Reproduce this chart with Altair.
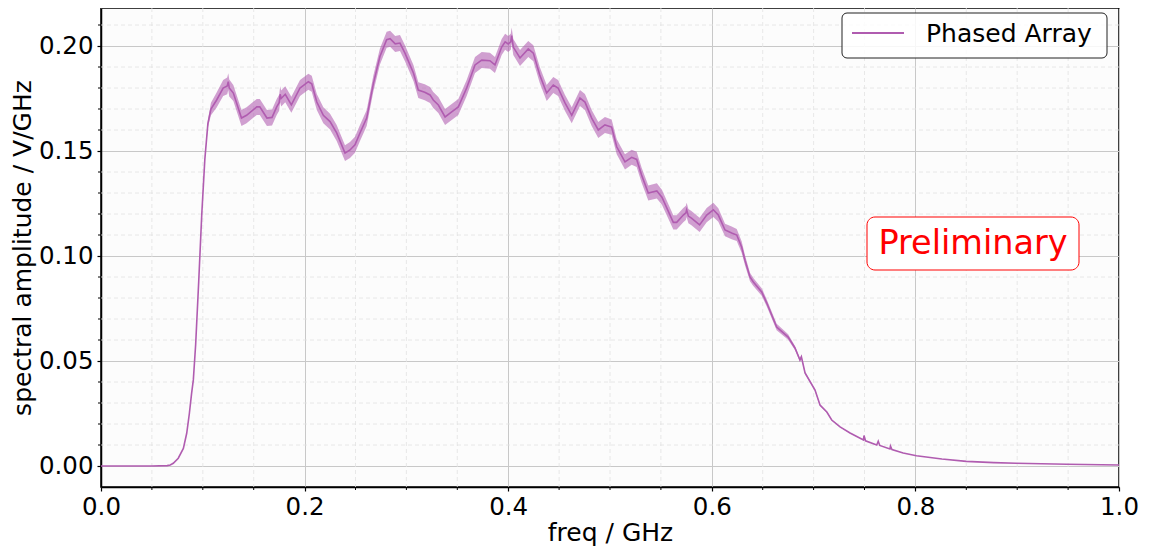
import altair as alt
import pandas as pd

# ---- data ----
freq = [0.000, 0.050, 0.065, 0.068, 0.071, 0.0759, 0.0809, 0.0842, 0.0868, 0.089,
        0.0907, 0.093, 0.096, 0.099, 0.102, 0.105, 0.108, 0.1136, 0.120, 0.124,
        0.125, 0.126, 0.130, 0.138, 0.143, 0.153, 0.156, 0.163, 0.168, 0.1726,
        0.175, 0.176, 0.177, 0.181, 0.187, 0.1955, 0.2037, 0.207, 0.212, 0.2184,
        0.225, 0.2315, 0.2397, 0.2446, 0.2495, 0.2544, 0.261, 0.2675, 0.274, 0.2806,
        0.284, 0.289, 0.2937, 0.2986, 0.307, 0.3117, 0.318, 0.3232, 0.3264, 0.3314,
        0.338, 0.3445, 0.351, 0.3592, 0.3674, 0.374, 0.382, 0.387, 0.3936, 0.397,
        0.400, 0.4025, 0.4034, 0.405, 0.4116, 0.4197, 0.4247, 0.431, 0.4378, 0.4443,
        0.449, 0.4558, 0.4624, 0.4705, 0.4754, 0.482, 0.4885, 0.495, 0.5016, 0.5066,
        0.5147, 0.5213, 0.5262, 0.531, 0.5376, 0.546, 0.551, 0.5622, 0.5655, 0.572,
        0.5745, 0.5753, 0.577, 0.580, 0.588, 0.595, 0.6015, 0.6064, 0.613, 0.6195,
        0.6245, 0.6293, 0.6326, 0.6375, 0.6408, 0.649, 0.654, 0.6637, 0.675, 0.6817,
        0.6866, 0.688, 0.6916, 0.7014, 0.7063, 0.713, 0.7178, 0.726, 0.7358, 0.749,
        0.7495, 0.751, 0.762, 0.7635, 0.765, 0.775, 0.7755, 0.777, 0.788, 0.801,
        0.826, 0.850, 0.877, 0.899, 0.949, 1.000]
amp = [0.0000, 0.0000, 0.0002, 0.0005, 0.0013, 0.0037, 0.0084, 0.0156, 0.0250, 0.0346,
       0.0410, 0.0580, 0.0880, 0.1200, 0.1460, 0.1630, 0.1700, 0.1743, 0.1800, 0.1810,
       0.1830, 0.1800, 0.1776, 0.1657, 0.1670, 0.1710, 0.1710, 0.1657, 0.1660, 0.1710,
       0.1730, 0.1770, 0.1750, 0.1770, 0.1720, 0.1800, 0.1830, 0.1820, 0.1733, 0.1670,
       0.1640, 0.1586, 0.1490, 0.1505, 0.1530, 0.1586, 0.1657, 0.1820, 0.1950, 0.2030,
       0.2035, 0.2010, 0.2014, 0.1966, 0.1870, 0.1790, 0.1780, 0.1767, 0.1743, 0.1719,
       0.1662, 0.1686, 0.1710, 0.1800, 0.1910, 0.1933, 0.1930, 0.1910, 0.1995, 0.2020,
       0.2010, 0.2020, 0.2050, 0.1995, 0.1943, 0.1986, 0.1966, 0.1862, 0.1776, 0.1814,
       0.1800, 0.1729, 0.1670, 0.1752, 0.1733, 0.1657, 0.1600, 0.1624, 0.1614, 0.1520,
       0.1448, 0.1470, 0.1460, 0.1386, 0.1300, 0.1310, 0.1280, 0.1160, 0.1160, 0.1195,
       0.1205, 0.1220, 0.1190, 0.1180, 0.1148, 0.1195, 0.1220, 0.1195, 0.1124, 0.1110,
       0.1100, 0.1043, 0.0980, 0.0900, 0.0876, 0.0829, 0.0776, 0.0662, 0.0614, 0.0562,
       0.0505, 0.0520, 0.0443, 0.0362, 0.0290, 0.0257, 0.0219, 0.0186, 0.0157, 0.0124,
       0.0145, 0.0120, 0.0100, 0.0118, 0.0098, 0.0081, 0.0095, 0.0078, 0.0062, 0.0049,
       0.0033, 0.0022, 0.0016, 0.0013, 0.0008, 0.0005]
err = [0.0, 0.0, 0.0, 0.0, 0.0, 0.0, 0.0, 0.0, 0.0, 0.0,
       0.0, 0.0, 0.0, 0.0, 0.0, 0.0018, 0.0030, 0.0036, 0.0038, 0.0040,
       0.0040, 0.0040, 0.0038, 0.0038, 0.0038, 0.0038, 0.0038, 0.0038, 0.0038, 0.0038,
       0.0038, 0.0038, 0.0038, 0.0038, 0.0038, 0.0038, 0.0038, 0.0038, 0.0038, 0.0038,
       0.0038, 0.0038, 0.0038, 0.0038, 0.0038, 0.0038, 0.0038, 0.0038, 0.0038, 0.0038,
       0.0038, 0.0038, 0.0038, 0.0038, 0.0038, 0.0038, 0.0038, 0.0038, 0.0038, 0.0038,
       0.0038, 0.0038, 0.0038, 0.0038, 0.0038, 0.0038, 0.0038, 0.0038, 0.0038, 0.0038,
       0.0038, 0.0038, 0.0038, 0.0038, 0.0038, 0.0038, 0.0038, 0.0038, 0.0038, 0.0038,
       0.0038, 0.0038, 0.0038, 0.0038, 0.0038, 0.0038, 0.0038, 0.0038, 0.0036, 0.0036,
       0.0036, 0.0036, 0.0036, 0.0036, 0.0036, 0.0036, 0.0036, 0.0034, 0.0034, 0.0034,
       0.0034, 0.0034, 0.0034, 0.0034, 0.0034, 0.0034, 0.0034, 0.0032, 0.0030, 0.0030,
       0.0029, 0.0027, 0.0024, 0.0020, 0.0019, 0.0018, 0.0017, 0.0015, 0.0013, 0.0010,
       0.0008, 0.0007, 0.0006, 0.0005, 0.0004, 0.0003, 0.0002, 0.0001, 0.0001, 0.0,
       0.0, 0.0, 0.0, 0.0, 0.0, 0.0, 0.0, 0.0, 0.0, 0.0,
       0.0, 0.0, 0.0, 0.0, 0.0, 0.0]

x_ticks = [0.0, 0.2, 0.4, 0.6, 0.8, 1.0]
x_minor = [0.05, 0.1, 0.15, 0.25, 0.3, 0.35, 0.45, 0.5, 0.55, 0.65, 0.7, 0.75,
           0.85, 0.9, 0.95]
y_ticks = [0.0, 0.05, 0.10, 0.15, 0.20]
y_minor = [0.01, 0.02, 0.03, 0.04, 0.06, 0.07, 0.08, 0.09, 0.11, 0.12, 0.13, 0.14,
           0.16, 0.17, 0.18, 0.19, 0.21]
legend_label = "Phased Array"
stamp_label = "Preliminary"
x_title = "freq / GHz"
y_title = "spectral amplitude / V/GHz"

LINE = "#b05cb0"
FONT = "DejaVu Sans"
W, H = 1018, 479

df = pd.DataFrame({"freq": freq, "amp": amp,
                   "lo": [a - e for a, e in zip(amp, err)],
                   "hi": [a + e for a, e in zip(amp, err)]})

xscale = alt.Scale(domain=[0, 1], nice=False, zero=False)
yscale = alt.Scale(domain=[-0.01, 0.2181], nice=False, zero=False)
xaxis = alt.Axis(values=x_ticks, format=".1f", title=x_title, grid=True, labelFlush=False)
yaxis = alt.Axis(values=y_ticks, format=".2f", title=y_title, grid=True, labelFlush=False)


def X(field="freq"):
    return alt.X(f"{field}:Q", scale=xscale, axis=xaxis, title=x_title)


def Y(field="amp"):
    return alt.Y(f"{field}:Q", scale=yscale, axis=yaxis, title=y_title)


xm = pd.DataFrame({"freq": x_minor})
ym = pd.DataFrame({"amp": y_minor})

xgrid = alt.Chart(xm).mark_rule(color="#e2e2e2", strokeDash=[4, 3], strokeWidth=0.8).encode(x=X())
ygrid = alt.Chart(ym).mark_rule(color="#e2e2e2", strokeDash=[4, 3], strokeWidth=0.8).encode(y=Y())
xmt = alt.Chart(xm).mark_rule(color="black", strokeWidth=1).encode(
    x=X(), y=alt.value(H), y2=alt.value(H + 3))
ymt = alt.Chart(ym).mark_rule(color="black", strokeWidth=1).encode(
    y=Y(), x=alt.value(-3), x2=alt.value(0))

band = alt.Chart(df).mark_area(color=LINE, opacity=0.58, clip=True).encode(
    x=X(), y=Y("lo"), y2="hi:Q")
line = alt.Chart(df).mark_line(color=LINE, strokeWidth=1.6, clip=True).encode(
    x=X(), y=Y())

lab = pd.DataFrame({"label": [legend_label]})
leg_box = alt.Chart(lab).mark_rect(fill="white", fillOpacity=0.85, stroke="#222222",
                                   strokeWidth=1, cornerRadius=5).encode(
    x=alt.value(741), x2=alt.value(1006), y=alt.value(5), y2=alt.value(50))
leg_sym = alt.Chart(lab).mark_rule(color=LINE, strokeWidth=2).encode(
    x=alt.value(751), x2=alt.value(803), y=alt.value(25))
leg_txt = alt.Chart(lab).mark_text(font=FONT, fontSize=25, align="left",
                                   baseline="middle", color="black").encode(
    x=alt.value(825), y=alt.value(26), text="label:N")

st = pd.DataFrame({"label": [stamp_label]})
st_box = alt.Chart(st).mark_rect(fill="white", stroke="red", strokeWidth=1,
                                 cornerRadius=8).encode(
    x=alt.value(766), x2=alt.value(978), y=alt.value(209), y2=alt.value(262))
st_txt = alt.Chart(st).mark_text(font=FONT, fontSize=33.5, align="center",
                                 baseline="middle", color="red").encode(
    x=alt.value(872), y=alt.value(236), text="label:N")

chart = alt.layer(xgrid, ygrid, xmt, ymt, band, line, leg_box, leg_sym, leg_txt,
                  st_box, st_txt).properties(
    width=W, height=H,
    autosize=alt.AutoSizeParams(type="none"),
    padding={"left": 93, "top": 0, "right": 20, "bottom": 60},
).configure_view(
    fill="#fcfcfc", stroke="black", strokeWidth=1.5
).configure_axis(
    domainColor="black", domainWidth=1.5, tickColor="black", tickSize=4,
    tickWidth=1.2, gridColor="#c8c8c8", gridWidth=1,
    labelFont=FONT, labelFontSize=24.5, labelColor="black",
    titleFont=FONT, titleFontSize=25, titleFontWeight="normal", titleColor="black",
).configure_axisX(labelPadding=4, titlePadding=2
).configure_axisY(labelPadding=4, titlePadding=3)

chart.save("out.html", embed_options={"renderer": "svg", "actions": False})
